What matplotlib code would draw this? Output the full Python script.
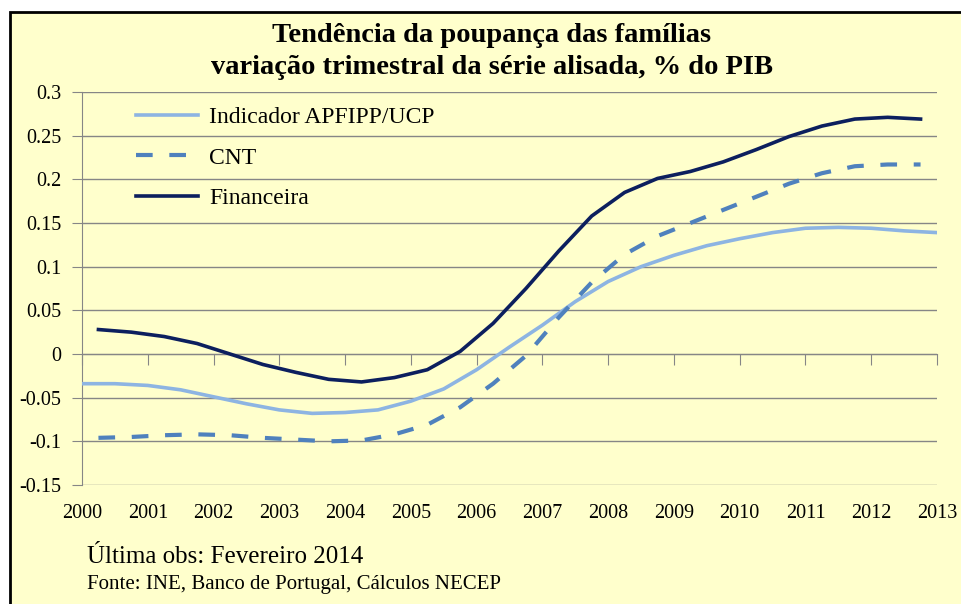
import matplotlib.pyplot as plt
from matplotlib.patches import Rectangle
from matplotlib.ticker import FuncFormatter

# --- dados (anos em fração) ---
anos_ind = [2000.0, 2000.5, 2001.0, 2001.5, 2002.0, 2002.5, 2003.0, 2003.5, 2004.0,
            2004.5, 2005.0, 2005.5, 2006.0, 2006.5, 2007.0, 2007.5, 2008.0, 2008.5,
            2009.0, 2009.5, 2010.0, 2010.5, 2011.0, 2011.5, 2012.0, 2012.5, 2013.0]
indicador = [-0.034, -0.034, -0.036, -0.041, -0.049, -0.057, -0.064, -0.068, -0.067,
             -0.064, -0.054, -0.040, -0.018, 0.008, 0.033, 0.060, 0.083, 0.100,
             0.113, 0.124, 0.132, 0.139, 0.144, 0.145, 0.144, 0.141, 0.139]

anos = [2000.25, 2000.75, 2001.25, 2001.75, 2002.25, 2002.75, 2003.25, 2003.75,
        2004.25, 2004.75, 2005.25, 2005.75, 2006.25, 2006.75, 2007.25, 2007.75,
        2008.25, 2008.75, 2009.25, 2009.75, 2010.25, 2010.75, 2011.25, 2011.75,
        2012.25, 2012.75]
cnt = [-0.096, -0.095, -0.093, -0.092, -0.093, -0.096, -0.098, -0.100,
       -0.099, -0.092, -0.081, -0.061, -0.034, -0.002, 0.042, 0.082,
       0.114, 0.135, 0.150, 0.165, 0.180, 0.195, 0.207, 0.215,
       0.217, 0.217]
financeira = [0.028, 0.025, 0.020, 0.012, 0.000, -0.012, -0.021, -0.029,
              -0.032, -0.027, -0.018, 0.003, 0.035, 0.075, 0.118, 0.158,
              0.185, 0.201, 0.209, 0.220, 0.234, 0.249, 0.261, 0.269,
              0.271, 0.269]

anos_ticks = list(range(2000, 2014))
y_ticks = [-0.15, -0.1, -0.05, 0, 0.05, 0.1, 0.15, 0.2, 0.25, 0.3]

plt.rcParams['font.family'] = ['Liberation Serif', 'DejaVu Serif']

FUNDO = '#FFFFCC'
CINZA = '#868686'

fig = plt.figure(figsize=(9.62, 6.04), dpi=100, facecolor='white')
# moldura (cortada à direita e em baixo, como no original)
fig.patches.append(Rectangle((10 / 962, -0.05), 1.1, 1 - 12 / 604 + 0.05,
                             transform=fig.transFigure, facecolor=FUNDO,
                             edgecolor='black', linewidth=2, zorder=-10))

ax = fig.add_axes([82 / 962, 1 - 485 / 604, (937 - 82) / 962, (485 - 92) / 604])
ax.set_facecolor('none')

ax.plot(anos_ind, indicador, color='#8DB4E2', lw=2.6, label='Indicador APFIPP/UCP', zorder=3)
ax.plot(anos, cnt, color='#4F81BD', lw=3.0, linestyle=(0, (4.0, 4.0)), label='CNT', zorder=3)
ax.plot(anos, financeira, color='#0C1F5E', lw=2.6, label='Financeira', zorder=4)

ax.set_xlim(2000, 2013)
ax.set_ylim(-0.15, 0.3)
ax.set_yticks(y_ticks)
ax.yaxis.set_major_formatter(FuncFormatter(lambda v, p: ('%g' % round(v, 2))))
ax.grid(axis='y', color=CINZA, lw=1)
ax.set_axisbelow(True)

for s in ['top', 'right']:
    ax.spines[s].set_visible(False)
ax.spines['left'].set_color(CINZA)
ax.spines['bottom'].set_position(('data', 0))
ax.spines['bottom'].set_color(CINZA)
ax.tick_params(axis='y', direction='out', length=7, color=CINZA, labelsize=14.5, pad=8)
ax.set_xticks(anos_ticks)
ax.tick_params(axis='x', direction='out', length=8, color=CINZA, labelbottom=False)

# rótulos dos anos em baixo do gráfico
sec = ax.secondary_xaxis('bottom')
sec.set_xticks(anos_ticks)
sec.tick_params(length=0, labelsize=14.5, pad=14)
sec.spines['bottom'].set_visible(False)

ax.legend(loc='upper left', bbox_to_anchor=(0.038, 1.017), frameon=False, fontsize=17,
          handlelength=2.65, labelspacing=0.8, handletextpad=0.45)

fig.text(0.511, 1 - 35 / 604, 'Tendência da poupança das famílias', ha='center', va='center',
         fontsize=20.5, fontweight='bold')
fig.text(0.511, 1 - 68 / 604, 'variação trimestral da série alisada, % do PIB', ha='center',
         va='center', fontsize=20.5, fontweight='bold')
fig.text(87 / 962, 1 - 557 / 604, 'Última obs: Fevereiro 2014', ha='left', va='center', fontsize=18)
fig.text(87 / 962, 1 - 584 / 604, 'Fonte: INE, Banco de Portugal, Cálculos NECEP', ha='left',
         va='center', fontsize=15)

fig.savefig('out.png', dpi=100, facecolor=fig.get_facecolor())
